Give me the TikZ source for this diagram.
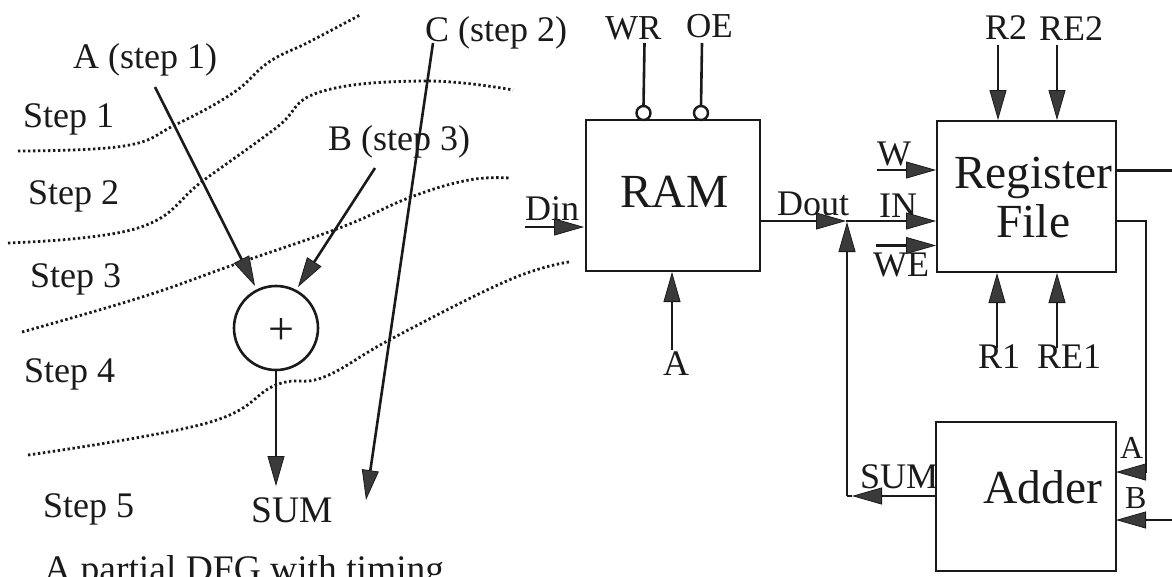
\documentclass[tikz,border=0pt]{standalone}
\usepackage{fontspec}
\setmainfont{Liberation Serif}
\usetikzlibrary{arrows.meta}
\definecolor{headgray}{HTML}{3A3A3A}
\definecolor{inkc}{HTML}{1A1A1A}
\tikzset{
  lbl/.style={inner sep=0pt,anchor=base west,text=inkc,font=\fontsize{36}{40}\selectfont},
  biglbl/.style={lbl,font=\fontsize{47.5}{52}\selectfont},
  smalllbl/.style={lbl,font=\fontsize{32}{36}\selectfont},
  wire/.style={draw=inkc,line width=2.6pt},
  arw/.style={wire,-{Triangle[length=30pt,width=17pt,fill=headgray,line width=0.8pt]}},
  blockbox/.style={draw=inkc,line width=2.8pt,inner sep=0pt,outer sep=0pt,fill=none},
  dotcurve/.style={draw=inkc,line width=2.8pt,dash pattern=on 2.4pt off 2.6pt},
  bubble/.style={circle,draw=inkc,line width=2.4pt,minimum size=14pt,inner sep=0pt,outer sep=0pt},
}
\begin{document}
\begin{tikzpicture}[x=1pt,y=-1pt]
\useasboundingbox (0,0) rectangle (1172,576);
\clip (0,0) rectangle (1172,576);
\fill[white] (0,0) rectangle (1172,576);
% step boundaries
\draw[dotcurve] plot[smooth,tension=0.7] coordinates {(18,151) (124,146) (175,125) (233,93) (269,62) (309,42) (360,15)};
\draw[dotcurve] plot[smooth,tension=0.7] coordinates {(8,243) (138,228) (204,180) (276,128) (320,92) (425,81) (513,90)};
\draw[dotcurve] plot[smooth,tension=0.7] coordinates {(22,332) (142,297) (233,265) (342,227) (411,197) (469,180) (509,178)};
\draw[dotcurve] plot[smooth,tension=0.7] coordinates {(28,455) (207,423) (276,385) (324,377) (393,338) (509,280) (569,262)};
% left labels
\node[lbl] (stepone) at (23,127) {Step 1};
\node[lbl] (steptwo) at (28,204) {Step 2};
\node[lbl] (stepthree) at (30,287) {Step 3};
\node[lbl] (stepfour) at (24,382) {Step 4};
\node[lbl] (stepfive) at (43,517) {Step 5};
\node[lbl] (astep) at (73,68) {A (step 1)};
\node[lbl] (bstep) at (328,150) {B (step 3)};
\node[lbl] (cstep) at (425,41) {C (step 2)};
\node[lbl,font=\fontsize{37.5}{40}\selectfont] (dfgsum) at (251,522) {SUM};
\node[lbl,font=\fontsize{37.5}{40}\selectfont] (caption) at (44,581) {A partial DFG with timing};
% adder node of DFG
\node[circle,draw=inkc,line width=2.6pt,minimum size=84pt,inner sep=0pt,outer sep=0pt] (plusnode) at (276,328) {};
\node[lbl,anchor=center,font=\fontsize{46}{48}\selectfont] (plussign) at (281,331) {+};
\coordinate (astart) at (155,87);
\coordinate (atip) at (255,286);
\coordinate (bstart) at (375,168);
\coordinate (btip) at (298,287);
\coordinate (cstart) at (433,43);
\coordinate (ctip) at (366,500);
\coordinate (sumtip) at (276,486);
\draw[arw] (astart) -- (atip);
\draw[arw] (bstart) -- (btip);
\draw[arw] (cstart) -- (ctip);
\draw[arw] (plusnode.south) -- (sumtip);
% blocks
\node[blockbox,minimum width=174pt,minimum height=151pt] (ram) at (673,195.5) {};
\node[blockbox,minimum width=179pt,minimum height=151pt] (regfile) at (1026.5,196.5) {};
\node[blockbox,minimum width=180pt,minimum height=149pt] (adder) at (1026,496.5) {};
\node[biglbl] (ramtxt) at (620,207) {RAM};
\node[biglbl] (regtxt) at (954,188) {Register};
\node[biglbl] (filetxt) at (996,237) {File};
\node[biglbl] (addertxt) at (983,503) {Adder};
% RAM controls
\node[lbl,font=\fontsize{35}{40}\selectfont] (wrtxt) at (605,39) {WR};
\node[lbl,font=\fontsize{35}{40}\selectfont] (oetxt) at (686,37) {OE};
\node[bubble] (wrbub) at (643.5,113) {};
\node[bubble] (oebub) at (701,113) {};
\coordinate (wrtop) at (644.5,43);
\coordinate (oetop) at (702,43);
\draw[wire] (wrtop) -- (wrbub.north);
\draw[wire] (oetop) -- (oebub.north);
\node[lbl] (dintxt) at (525,220) {Din};
\coordinate (dinstart) at (525,227);
\coordinate (dintip) at (584,227);
\draw[arw] (dinstart) -- (dintip);
\node[lbl] (ramaddr) at (663,375) {A};
\coordinate (ramaddrstart) at (672,350);
\coordinate (ramaddrtip) at (672,272);
\draw[arw] (ramaddrstart) -- (ramaddrtip);
% bus between RAM and register file
\node[lbl] (douttxt) at (777,215) {Dout};
\node[lbl] (intxt) at (879,217) {IN};
\coordinate (ramout) at (760,221);
\coordinate (doutmid) at (846,221);
\coordinate (regin) at (936,221);
\draw[arw] (ramout) -- (doutmid);
\draw[arw] (doutmid) -- (regin);
\node[lbl] (wtxt) at (877,165) {W};
\coordinate (wstart) at (877,170);
\coordinate (wtip) at (936,170);
\draw[arw] (wstart) -- (wtip);
\node[lbl] (wetxt) at (873,276) {WE};
\coordinate (westart) at (876,245.5);
\coordinate (wetip) at (936,245.5);
\draw[arw] (westart) -- (wetip);
% register file read ports
\node[lbl] (rtwotxt) at (985,39) {R2};
\node[lbl] (retwotxt) at (1039,40) {RE2};
\coordinate (rtwostart) at (998,45);
\coordinate (rtwotip) at (998,120);
\coordinate (retwostart) at (1057,45);
\coordinate (retwotip) at (1057,120);
\draw[arw] (rtwostart) -- (rtwotip);
\draw[arw] (retwostart) -- (retwotip);
\node[lbl] (ronetxt) at (978,368) {R1};
\node[lbl] (reonetxt) at (1037,368) {RE1};
\coordinate (ronestart) at (997,348);
\coordinate (ronetip) at (997,273);
\coordinate (reonestart) at (1057,348);
\coordinate (reonetip) at (1057,273);
\draw[arw] (ronestart) -- (ronetip);
\draw[arw] (reonestart) -- (reonetip);
% right side wiring
\coordinate (regouttop) at (1116,170.5);
\coordinate (rightedgetop) at (1172,170.5);
\draw[wire] (regouttop) -- (rightedgetop);
\coordinate (regoutlow) at (1116,221);
\coordinate (acorner) at (1146,221);
\coordinate (abend) at (1146,472);
\coordinate (atipadd) at (1116,472);
\draw[wire] (regoutlow) -- (acorner) -- (abend);
\draw[arw] (abend) -- (atipadd);
\node[smalllbl] (aport) at (1120,458) {A};
\node[smalllbl] (bport) at (1125,508) {B};
\coordinate (bright) at (1172,520);
\coordinate (btipadd) at (1116,520);
\draw[arw] (bright) -- (btipadd);
% adder result
\node[lbl] (sumtxt) at (860,488) {SUM};
\coordinate (addout) at (936,496);
\coordinate (sumhead) at (852,496);
\coordinate (sumcorner) at (847,496);
\coordinate (sumup) at (847,222);
\draw[arw] (addout) -- (sumhead);
\draw[wire] (sumhead) -- (sumcorner);
\draw[arw] (sumcorner) -- (sumup);
\end{tikzpicture}
\end{document}
